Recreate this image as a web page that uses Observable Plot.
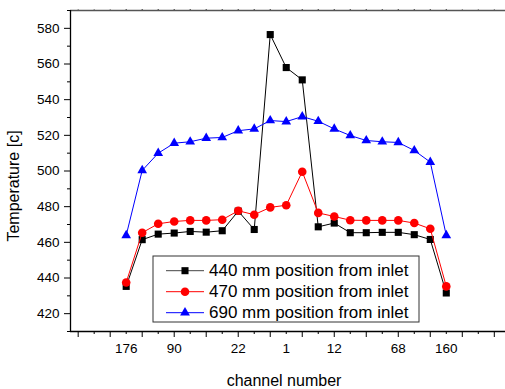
<!DOCTYPE html>
<html><head><meta charset="utf-8">
<script src="https://cdn.jsdelivr.net/npm/d3@7"></script>
<script src="https://cdn.jsdelivr.net/npm/@observablehq/plot@0.6"></script>
<style>
html,body{margin:0;padding:0;background:#fff;}
#chart{position:relative;width:505px;height:389px;}
</style></head><body><div id="chart"></div>
<script>
// ---- data ----
const channelIndex = [0,1,2,3,4,5,6,7,8,9,10,11,12,13,14,15,16,17,18,19,20];
const tickIndex = [0,3,7,10,13,17,20];
const tickLabels = ["176","90","22","1","12","68","160"];
const seriesNames = ["440 mm position from inlet","470 mm position from inlet","690 mm position from inlet"];
const seriesColors = ["#000000","#ff0000","#0000ff"];
const seriesSymbols = ["square","circle","triangle"];
const temp440 = [435.3,461.5,464.6,465.2,466.1,465.7,466.5,477.5,467.2,576.5,558.0,551.1,468.7,470.8,465.4,465.4,465.6,465.6,464.3,461.6,431.6];
const temp470 = [437.5,465.4,470.4,471.7,472.3,472.3,472.7,477.7,475.5,479.6,480.8,499.6,476.5,474.5,472.4,472.3,472.3,472.3,470.8,467.6,435.3];
const temp690 = [463.9,500.3,510.0,515.6,516.4,518.4,518.8,522.6,523.6,528.3,527.7,530.5,527.9,523.6,519.9,517.1,516.4,516.0,511.5,505.0,463.9];
const yTicks = [420,440,460,480,500,520,540,560,580];
const yMinor = [410,430,450,470,490,510,530,550,570,590];
const xMajor = [-3,-1,1,3,5,7,9,11,13,15,17,19,21,23];
const xMinor = [-2,0,2,4,6,8,10,12,14,16,18,20,22];
const xDomain = [-3.48, 23.7];
const yDomain = [410, 590];
const xTitle = "channel number";
const yTitle = "Temperature [c]";

const allSeries = [temp440, temp470, temp690];
const font = "Arial, 'Liberation Sans', sans-serif";

const seriesMarks = [];
allSeries.forEach((vals, s) => {
  const rows = vals.map((v, i) => ({ch: channelIndex[i], t: v}));
  seriesMarks.push(Plot.line(rows, {x: "ch", y: "t", stroke: seriesColors[s], strokeWidth: 1}));
  seriesMarks.push(Plot.dot(rows, {x: "ch", y: "t", fill: seriesColors[s], stroke: "none",
    symbol: seriesSymbols[s], r: s === 0 ? 4 : (s === 1 ? 4.3 : 3.6)}));
});

const plot = Plot.plot({
  width: 505, height: 389,
  marginLeft: 70, marginRight: 0, marginTop: 10, marginBottom: 58,
  style: {fontFamily: font, fontSize: "13.5px", color: "#000", background: "#fff"},
  x: {domain: xDomain},
  y: {domain: yDomain},
  marks: [
    Plot.axisY({ticks: yMinor, tickSize: 3, tickFormat: () => "", label: null}),
    Plot.axisY({ticks: yTicks, tickSize: 6, tickPadding: 5, label: null}),
    Plot.axisX({ticks: xMinor, tickSize: 3, tickFormat: () => "", label: null}),
    Plot.axisX({ticks: xMajor, tickSize: 6, tickFormat: () => "", label: null}),
    Plot.axisX({ticks: tickIndex, tickSize: 0, tickPadding: 12, tickFormat: d => tickLabels[tickIndex.indexOf(d)], label: null}),
    Plot.axisX({anchor: "top", ticks: channelIndex.concat(xMajor, xMinor), tickSize: 1.5, tickFormat: () => "", label: null}),
    Plot.ruleY([yDomain[1]], {stroke: "#555", strokeWidth: 1.5}),
    Plot.ruleX([xDomain[0]], {stroke: "#000", strokeWidth: 1.3}),
    Plot.ruleY([yDomain[0]], {stroke: "#000", strokeWidth: 1.3}),
    ...seriesMarks
  ]
});
document.getElementById("chart").appendChild(plot);

const svg = d3.select(plot);
// axis titles
svg.append("text").attr("transform", "translate(13,186) rotate(-90)")
  .attr("text-anchor", "middle").attr("dominant-baseline", "central")
  .style("font-size", "16px").style("font-family", font).attr("fill", "#000").text(yTitle);
svg.append("text").attr("x", 284).attr("y", 386)
  .attr("text-anchor", "middle")
  .style("font-size", "16px").style("font-family", font).attr("fill", "#000").text(xTitle);

// legend
const lg = svg.append("g");
lg.append("rect").attr("x", 153).attr("y", 256).attr("width", 266).attr("height", 66)
  .attr("fill", "#fff").attr("stroke", "#333").attr("stroke-width", 1);
const symMap = {square: d3.symbolSquare, circle: d3.symbolCircle, triangle: d3.symbolTriangle};
const symSize = [50, 58, 42];
seriesNames.forEach((name, s) => {
  const cy = 270.7 + s * 21;
  lg.append("line").attr("x1", 166).attr("x2", 204).attr("y1", cy).attr("y2", cy)
    .attr("stroke", s === 0 ? "#444" : seriesColors[s]).attr("stroke-width", 1);
  lg.append("path").attr("d", d3.symbol(symMap[seriesSymbols[s]], symSize[s])())
    .attr("transform", `translate(185,${cy})`).attr("fill", seriesColors[s]);
  lg.append("text").attr("x", 209).attr("y", cy).attr("dominant-baseline", "central")
    .attr("text-anchor", "start")
    .style("font-size", "17px").style("font-family", font).attr("fill", "#000").text(name);
});
</script></body></html>
